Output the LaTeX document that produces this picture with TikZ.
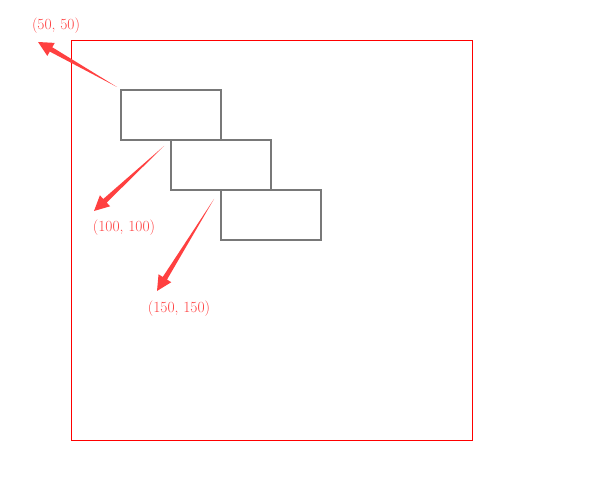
\documentclass[tikz,border=0pt]{standalone}
\usetikzlibrary{calc}
\definecolor{markred}{RGB}{255,64,64}
\definecolor{boxgray}{RGB}{120,120,120}
\tikzset{
  frame/.style = {draw=red, line width=0.8pt},
  block/.style = {rectangle, draw=boxgray, line width=1.5pt,
                  minimum width=100pt, minimum height=50pt,
                  inner sep=0, outer sep=0, anchor=north west},
  coordlabel/.style = {text=markred, font=\fontsize{15.5}{18}\selectfont},
  pointer/.style = {fill=markred},
}
% tapered arrow from #1 to #2
\newcommand{\wedgearrow}[2]{%
  \coordinate (hb) at ($(#2)!15pt!(#1)$);
  \fill[pointer] (#1) -- ($(hb)!2.5pt!90:(#2)$) -- ($(hb)!7.5pt!90:(#2)$)
    -- (#2) -- ($(hb)!7.5pt!-90:(#2)$) -- ($(hb)!2.5pt!-90:(#2)$) -- cycle;
}
\begin{document}
\begin{tikzpicture}[x=1pt,y=-1pt]
\useasboundingbox (0,0) rectangle (594,489);
\draw[frame] (71,40) rectangle (472,440);
\node[block] (rectA) at (121,90) {};
\node[block] (rectB) at (rectA.south) {};
\node[block] (rectC) at (rectB.south) {};
% labels
\node[coordlabel] (lblA) at (56,26) {(50, 50)};
\node[coordlabel] (lblB) at (124,228) {(100, 100)};
\node[coordlabel] (lblC) at (179,309) {(150, 150)};
% arrows
\coordinate (tailA) at (117,87);
\coordinate (tipA) at (38,42);
\coordinate (tailB) at (164,146);
\coordinate (tipB) at (94,211);
\coordinate (tailC) at (214,199);
\coordinate (tipC) at (157,291);
\wedgearrow{tailA}{tipA}
\wedgearrow{tailB}{tipB}
\wedgearrow{tailC}{tipC}
\end{tikzpicture}
\end{document}
